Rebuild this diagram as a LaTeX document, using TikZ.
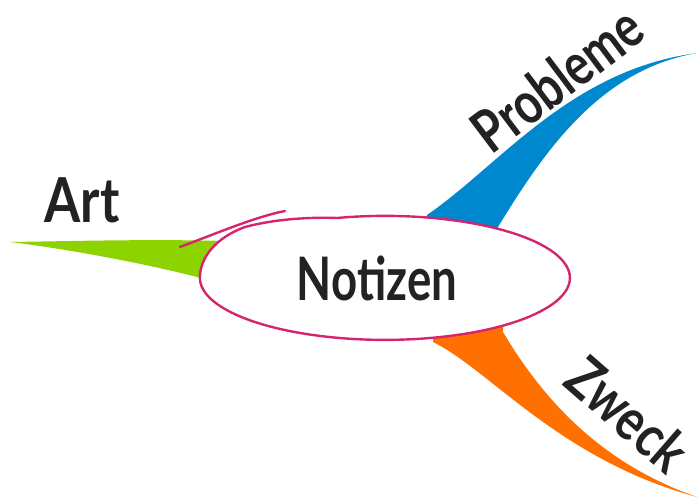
\documentclass[tikz,border=0pt]{standalone}
\usepackage{fontspec}
\usetikzlibrary{shapes.geometric}
\setmainfont{Lato}
\definecolor{artgreen}{RGB}{141,211,0}
\definecolor{probblue}{RGB}{0,136,206}
\definecolor{zweckorange}{RGB}{255,112,0}
\definecolor{penpink}{RGB}{214,36,110}
\definecolor{ink}{RGB}{34,34,34}
\tikzset{
  branchlabel/.style={text=ink, inner sep=0pt, font=\bfseries\fontsize{58}{62}\selectfont},
  penline/.style={draw=penpink, line width=2.4pt, line cap=round, line join=round},
}
\begin{document}
\begin{tikzpicture}[x=1pt,y=-1pt]
\useasboundingbox (0,0) rectangle (698,502);
% branches
\fill[artgreen] (10,242) .. controls (80,241) and (150,239) .. (225,241)
  -- (220,285) -- (205,279) .. controls (140,262) and (60,248) .. (10,242) -- cycle;
\fill[probblue] (427,215) .. controls (500,165) and (570,70) .. (697,53)
  .. controls (600,70) and (545,150) .. (498,227) -- (498,250) -- (427,250) -- cycle;
\fill[zweckorange] (433,342) .. controls (490,370) and (560,460) .. (697,497)
  .. controls (620,470) and (555,420) .. (503,332) -- (503,310) -- (433,310) -- cycle;
% central ellipse (hand drawn)
\node[fill=white, ellipse, minimum width=370pt, minimum height=124pt,
  inner sep=0pt] (center) at (385,278) {};
\fill[white] (200,278) .. controls (200,258) and (215,238) .. (245,227)
  .. controls (275,219) and (310,217) .. (337,218) -- (337,260) -- cycle;
\draw[penline] (337,218) arc[start angle=-105, end angle=180, x radius=185, y radius=62]
  .. controls (200,258) and (215,238) .. (245,227)
  .. controls (275,219) and (310,217) .. (337,218);
\draw[penline] (180,247) .. controls (220,232) and (255,217) .. (285,211);
\node[branchlabel, font=\bfseries\fontsize{60}{64}\selectfont] (notizen) at (377,278)
  {\scalebox{0.76}[1]{Notizen}};
% labels
\node[branchlabel, font=\bfseries\fontsize{62}{66}\selectfont] (art) at (82,200)
  {\scalebox{0.84}[1]{Art}};
\node[branchlabel, rotate=37, font=\bfseries\fontsize{59}{63}\selectfont] (probleme) at (557,79)
  {\scalebox{0.78}[1]{Probleme}};
\node[branchlabel, rotate=-41] (zweck) at (628,414)
  {\scalebox{0.82}[1]{Zweck}};
\end{tikzpicture}
\end{document}
